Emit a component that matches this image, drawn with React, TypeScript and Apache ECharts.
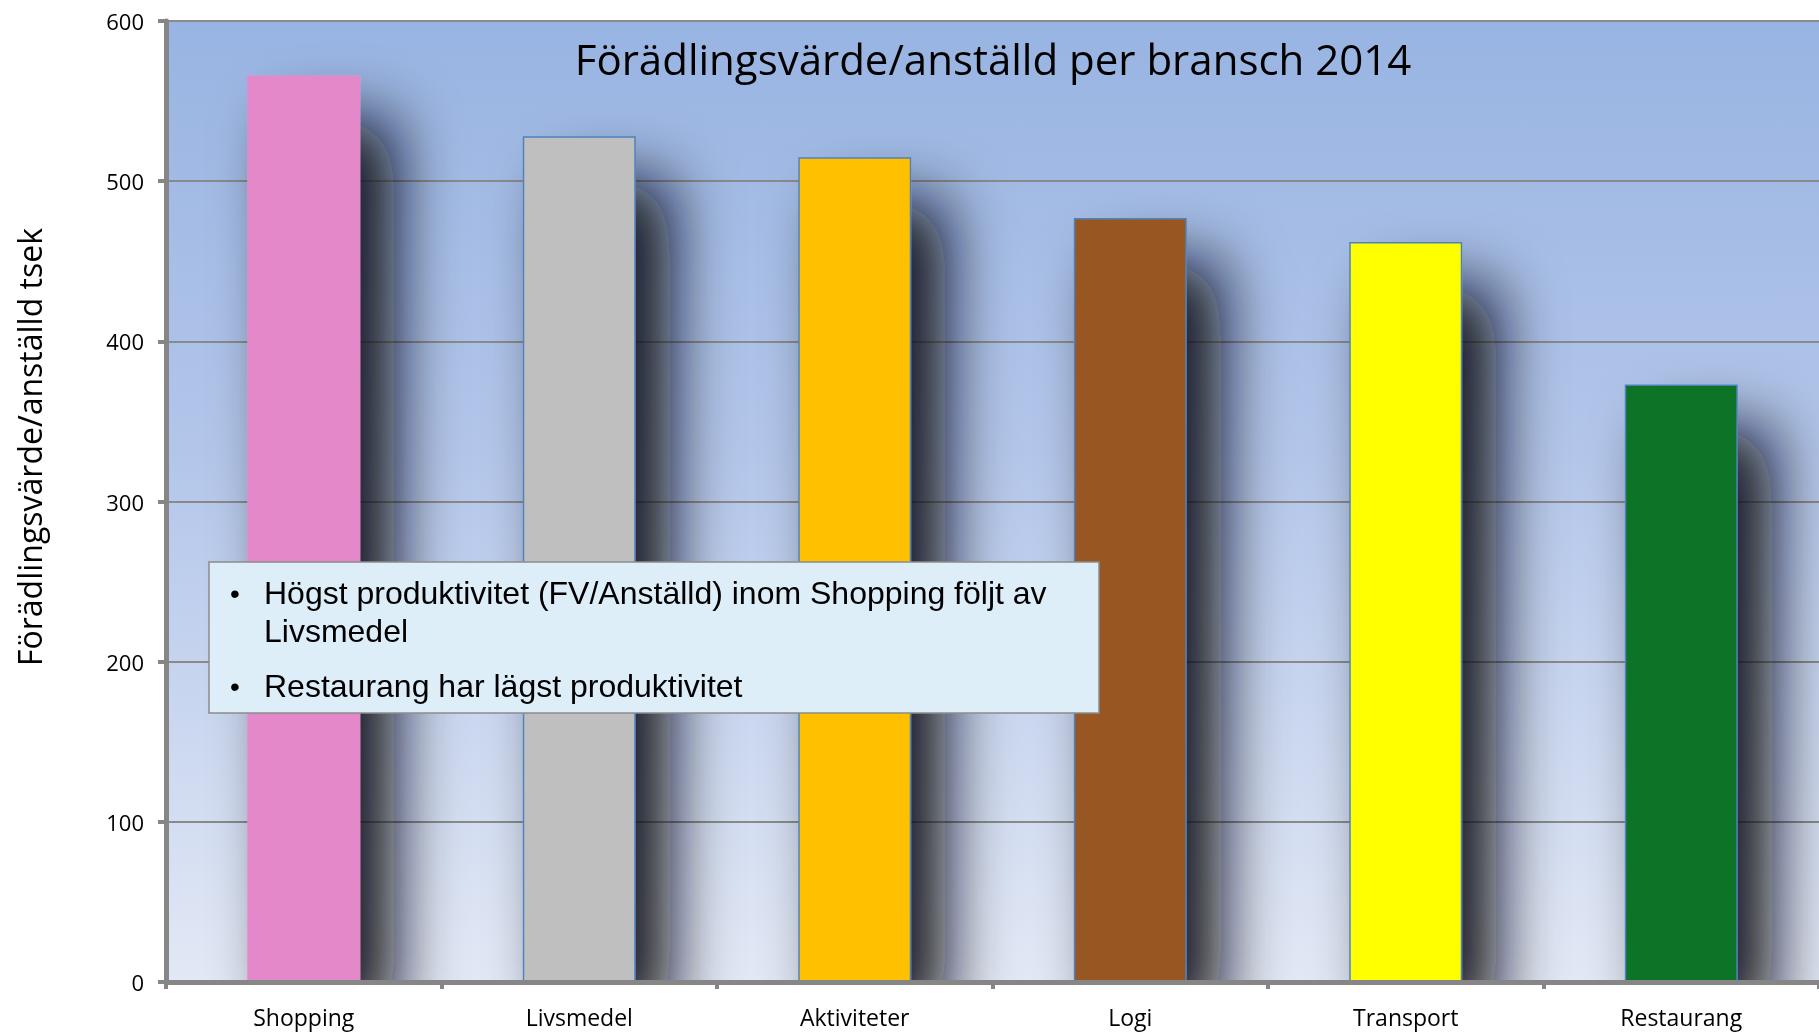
import React, { useEffect, useRef } from "react";
import * as echarts from "echarts";

const categories = ["Shopping", "Livsmedel", "Aktiviteter", "Logi", "Transport", "Restaurang"];
const values = [566, 528, 515, 477, 462, 373];
const barColors = ["#E389C9", "#BFBFBF", "#FFC000", "#985723", "#FFFF00", "#0B7327"];
const borderColors = ["#E389C9", "#4F81BD", "#4F81BD", "#4F81BD", "#4F81BD", "#4F81BD"];
const yTicks = [0, 100, 200, 300, 400, 500, 600];
const chartTitle = "Förädlingsvärde/anställd per bransch 2014";
const yAxisTitle = "Förädlingsvärde/anställd tsek";
const bullets = [
  ["Högst produktivitet (FV/Anställd) inom Shopping följt av", "Livsmedel"],
  ["Restaurang har lägst produktivitet"],
];

export default function App() {
  const ref = useRef<HTMLDivElement>(null);
  useEffect(() => {
    if (!ref.current) return;
    const chart = echarts.init(ref.current, null, { renderer: "svg" });
    const calibri = "'Open Sans', 'Noto Sans', sans-serif";
    const arial = "'Liberation Sans', Arial, sans-serif";
    const textEls: any[] = [];
    const lineYs = [[593, 631], [686]];
    bullets.forEach((lines, i) => {
      textEls.push({
        type: "text",
        x: 235,
        y: lineYs[i][0],
        style: { text: "•", fontSize: 28, fontFamily: arial, fill: "#000", align: "center", verticalAlign: "middle" },
        z: 110,
      });
      lines.forEach((ln, j) => {
        textEls.push({
          type: "text",
          x: 264,
          y: lineYs[i][j],
          style: { text: ln, fontSize: 32, fontFamily: arial, fill: "#000", align: "left", verticalAlign: "middle" },
          z: 110,
        });
      });
    });
    chart.setOption({
      animation: false,
      grid: {
        left: 166,
        right: 0,
        top: 21,
        bottom: 53,
        show: true,
        borderWidth: 0,
        backgroundColor: new echarts.graphic.LinearGradient(0, 0, 0, 1, [
          { offset: 0, color: "#98B4E2" },
          { offset: 0.45, color: "#B3C6EA" },
          { offset: 1, color: "#E2E8F5" },
        ]),
      },
      xAxis: {
        type: "category",
        data: categories,
        z: 20,
        axisLine: { lineStyle: { color: "#868686", width: 5 } },
        axisTick: { show: true, length: 7, lineStyle: { color: "#868686", width: 4 } },
        axisLabel: { fontSize: 23, fontFamily: calibri, color: "#000", margin: 23 },
      },
      yAxis: {
        type: "value",
        min: yTicks[0],
        max: yTicks[yTicks.length - 1],
        interval: 100,
        axisLine: { show: true, lineStyle: { color: "#868686", width: 5 } },
        axisTick: { show: true, length: 8, lineStyle: { color: "#868686", width: 4 } },
        axisLabel: { fontSize: 22, fontFamily: calibri, color: "#000", margin: 22 },
        splitLine: { lineStyle: { color: "#8A8A8A", width: 2 } },
      },
      series: [
        {
          type: "bar",
          barWidth: 113,
          data: values.map((v, i) => ({
            value: v,
            itemStyle: {
              color: barColors[i],
              borderColor: borderColors[i],
              borderWidth: 1.5,
              shadowColor: "rgba(12,14,20,0.97)",
              shadowBlur: 64,
              shadowOffsetX: 34,
              shadowOffsetY: 44,
            },
          })),
        },
      ],
      graphic: [
        {
          type: "rect",
          shape: { x: 169, y: 984, width: 1650, height: 51 },
          style: { fill: "#FFFFFF" },
          z: 10,
        },
        {
          type: "text",
          x: 993,
          y: 58,
          style: { text: chartTitle, fontSize: 42, fontFamily: calibri, fill: "#000", align: "center", verticalAlign: "middle" },
          z: 100,
        },
        {
          type: "text",
          x: 29,
          y: 447,
          rotation: Math.PI / 2,
          style: { text: yAxisTitle, fontSize: 32, fontFamily: calibri, fill: "#000", align: "center", verticalAlign: "middle" },
          z: 100,
        },
        {
          type: "rect",
          shape: { x: 209, y: 562, width: 890, height: 151 },
          style: { fill: "#DDEEF9", stroke: "#8C8C8C", lineWidth: 1.5 },
          z: 105,
        },
        ...textEls,
      ],
    });
    return () => chart.dispose();
  }, []);
  return <div ref={ref} style={{ position: "fixed", left: 0, top: 0, width: 1819, height: 1035 }} />;
}
